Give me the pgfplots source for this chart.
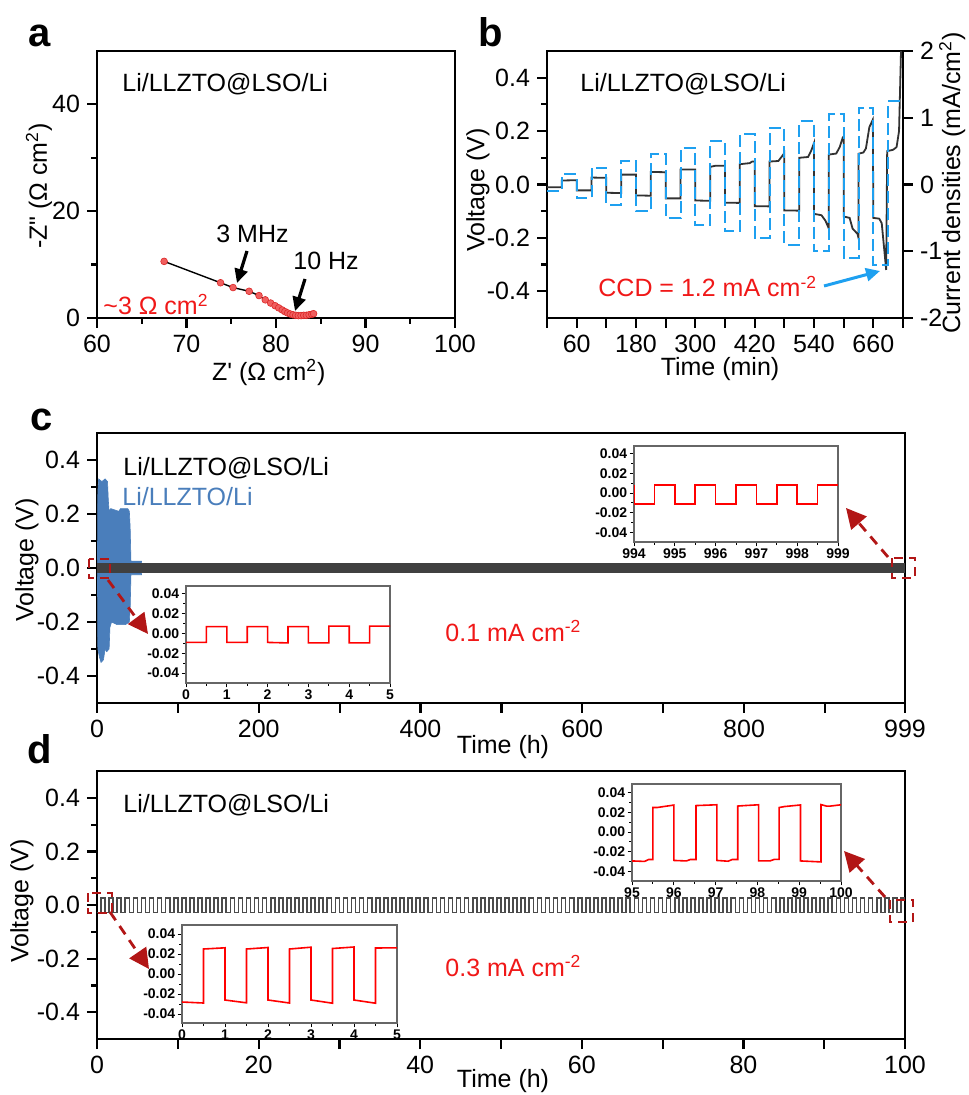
\documentclass[border=0pt]{standalone}
\usepackage{fontspec}
\setmainfont{Liberation Sans}
\usepackage{pgfplots}
\pgfplotsset{compat=1.18}
\usetikzlibrary{arrows.meta}

\definecolor{dgray}{RGB}{64,64,64}
\definecolor{sblue}{RGB}{74,126,187}
\definecolor{cblue}{RGB}{30,160,240}
\definecolor{tred}{RGB}{240,24,24}
\definecolor{dred}{RGB}{178,22,22}
\definecolor{mfill}{RGB}{240,95,95}
\definecolor{medge}{RGB}{220,40,40}

\newcommand\fs{\fontsize{12.5}{14}\selectfont}

\pgfplotsset{
  main/.style={scale only axis, anchor=north west,
    axis line style={line width=1.3pt},
    tick style={line width=1.1pt, black},
    tick align=outside, major tick length=5pt, minor tick length=3pt,
    tick pos=left,
    ticklabel style={font=\fs},
    label style={font=\fs},
    /pgf/number format/assume math mode=true},
  inset/.style={scale only axis, anchor=north west,
    axis line style={line width=0.6pt, black!60},
    tick style={line width=0.5pt, black},
    tick align=outside, major tick length=2.2pt, minor tick length=1.3pt,
    tick pos=left, minor x tick num=1, minor y tick num=1,
    ticklabel style={font=\fontsize{7}{7}\selectfont\bfseries, inner sep=1pt},
    /pgf/number format/assume math mode=true,
    scaled ticks=false,
    ytick={-0.04,-0.02,0,0.02,0.04},
    yticklabels={-0.04,-0.02,0.00,0.02,0.04},
    axis background/.style={fill=white}},
}

\begin{document}
\begin{tikzpicture}
\path[use as bounding box] (0,0) rectangle (484pt,-547.5pt);

% ---------- a: Nyquist ----------
\begin{axis}[main, at={(48.5pt,-25.5pt)}, width=179pt, height=133.5pt,
  xmin=60, xmax=100, ymin=0, ymax=50,
  xtick={60,70,80,90,100}, minor xtick={65,75,85,95},
  ytick={0,20,40}, minor ytick={10,30},
  xlabel={Z\textquotesingle\ (Ω cm\textsuperscript{2})},
  ylabel={-Z\textquotedbl\ (Ω cm\textsuperscript{2})},
  xlabel style={at={(axis description cs:0.48,-0.205)}, anchor=center},
  ylabel style={at={(axis description cs:-0.162,0.494)}, anchor=center},
  clip=false]
\addplot[black, line width=0.7pt, mark=*, mark size=1.7pt,
  mark options={fill=mfill, draw=medge, line width=0.3pt}] coordinates {
  (67.5,10.6)(73.8,6.6)(75.2,5.7)(77.0,5.0)(78.1,4.2)(78.8,3.4)(79.4,2.8)
  (79.9,2.3)(80.3,1.9)(80.7,1.5)(81.0,1.2)(81.3,0.95)(81.6,0.75)(81.9,0.6)
  (82.2,0.5)(82.5,0.45)(82.8,0.45)(83.1,0.5)(83.4,0.5)(83.7,0.6)(84.0,0.7)(84.2,0.8)};
\end{axis}

% ---------- b: CCD ----------
\begin{axis}[main, at={(273.5pt,-25.5pt)}, width=178pt, height=133.5pt,
  xmin=0, xmax=720, ymin=-0.5, ymax=0.5,
  xtick={0,60,120,180,240,300,360,420,480,540,600,660,720},
  xticklabels={,60,,180,,300,,420,,540,,660,},
  ytick={-0.4,-0.2,0,0.2,0.4}, yticklabels={-0.4,-0.2,0.0,0.2,0.4},
  minor ytick={-0.3,-0.1,0.1,0.3},
  xlabel={Time (min)}, ylabel={Voltage (V)},
  xlabel style={at={(axis description cs:0.486,-0.19)}, anchor=center},
  ylabel style={at={(axis description cs:-0.194,0.479)}, anchor=center}]
\addplot[color={rgb,255:red,50;green,50;blue,50}, line width=0.9pt] coordinates {
  (0,-0.010)(30,-0.010)(30,0.015)(60,0.016)(60,-0.022)(90,-0.022)
  (90,0.026)(120,0.025)(120,-0.031)(150,-0.032)(150,0.037)(180,0.037)
  (180,-0.041)(210,-0.042)(210,0.047)(240,0.046)(240,-0.052)(270,-0.052)
  (270,0.056)(300,0.056)(300,-0.060)(330,-0.061)(330,0.066)(340,0.070)(360,0.070)
  (360,-0.068)(390,-0.069)(390,0.076)(410,0.080)(415,0.086)(420,0.086)
  (420,-0.081)(450,-0.082)(450,0.086)(468,0.088)(475,0.105)(480,0.118)
  (480,-0.097)(510,-0.098)(510,0.100)(528,0.103)(534,0.125)(540,0.155)
  (540,-0.110)(555,-0.115)(563,-0.135)(570,-0.165)
  (570,0.112)(585,0.116)(592,0.140)(598,0.175)(600,0.180)
  (600,-0.120)(612,-0.125)(618,-0.165)(628,-0.185)(630,-0.200)
  (630,0.115)(640,0.120)(645,0.135)(652,0.215)(659,0.243)
  (660,-0.125)(672,-0.128)(677,-0.145)(686,-0.320)
  (688,0.125)(700,0.130)(707,0.140)(712,0.200)(716,0.500)};
\end{axis}
\begin{axis}[main, at={(273.5pt,-25.5pt)}, width=178pt, height=133.5pt,
  xmin=0, xmax=720, ymin=-2, ymax=2,
  axis x line=none, axis y line*=right, ytick pos=right,
  ytick={-2,-1,0,1,2}, yticklabels={-2,-1,0,1,2},
  ylabel={Current densities (mA/cm\textsuperscript{2})},
  ylabel style={at={(axis description cs:1.138,0.506)}, anchor=center}]
\addplot[cblue, line width=1pt, dash pattern=on 6pt off 2.5pt] coordinates {
  (0,-0.10)(30,-0.10)(30,0.15)(60,0.15)(60,-0.20)(90,-0.20)(90,0.25)(120,0.25)
  (120,-0.30)(150,-0.30)(150,0.35)(180,0.35)(180,-0.40)(210,-0.40)(210,0.45)(240,0.45)
  (240,-0.50)(270,-0.50)(270,0.55)(300,0.55)(300,-0.60)(330,-0.60)(330,0.65)(360,0.65)
  (360,-0.70)(390,-0.70)(390,0.75)(420,0.75)(420,-0.80)(450,-0.80)(450,0.85)(480,0.85)
  (480,-0.90)(510,-0.90)(510,0.95)(540,0.95)(540,-1.00)(570,-1.00)(570,1.05)(600,1.05)
  (600,-1.10)(630,-1.10)(630,1.15)(660,1.15)(660,-1.20)(690,-1.20)(690,1.25)(720,1.25)};
\end{axis}

% ---------- c: long cycling 0.1 mA ----------
\begin{axis}[main, at={(48.5pt,-216.5pt)}, width=404pt, height=135pt,
  xmin=0, xmax=999, ymin=-0.5, ymax=0.5,
  xtick={0,100,200,300,400,500,600,700,800,900,999},
  xticklabels={0,,200,,400,,600,,800,,999},
  ytick={-0.4,-0.2,0,0.2,0.4}, yticklabels={-0.4,-0.2,0.0,0.2,0.4},
  minor ytick={-0.3,-0.1,0.1,0.3},
  xlabel={Time (h)}, ylabel={Voltage (V)},
  xlabel style={at={(axis description cs:0.5025,-0.163)}, anchor=center},
  ylabel style={at={(axis description cs:-0.0866,0.53)}, anchor=center}]
\addplot[fill=sblue, draw=sblue, line width=0.3pt] coordinates {
  (0.5,0)(1,0.28)(2,0.33)(6,0.32)(10,0.33)(13,0.32)(14,0.25)(15,0.21)(17,0.22)
  (27,0.21)(29,0.22)(38,0.22)(40,0.21)(41,0.15)(42,0.025)(55,0.025)(56,0)
  (55,-0.025)(42,-0.025)(41,-0.15)(40,-0.20)(35,-0.21)(25,-0.21)(18,-0.20)
  (16,-0.22)(15,-0.30)(12,-0.31)(10,-0.30)(8,-0.34)(5,-0.35)(3,-0.33)(1,-0.30)(0.5,0)};
\addplot[fill=dgray, draw=none] coordinates {(0,-0.02)(999,-0.02)(999,0.02)(0,0.02)};
\end{axis}

% ---------- d: cycling 0.3 mA ----------
\begin{axis}[main, at={(48.5pt,-385.5pt)}, width=404pt, height=134pt,
  xmin=0, xmax=100, ymin=-0.5, ymax=0.5,
  xtick={0,10,20,30,40,50,60,70,80,90,100},
  xticklabels={0,,20,,40,,60,,80,,100},
  ytick={-0.4,-0.2,0,0.2,0.4}, yticklabels={-0.4,-0.2,0.0,0.2,0.4},
  minor ytick={-0.3,-0.1,0.1,0.3},
  xlabel={Time (h)}, ylabel={Voltage (V)},
  xlabel style={at={(axis description cs:0.5025,-0.157)}, anchor=center},
  ylabel style={at={(axis description cs:-0.0928,0.515)}, anchor=center}]
\addplot[const plot, color={rgb,255:red,75;green,75;blue,75}, line width=0.8pt] coordinates {
  (0,-.028)(.5,.026)(1,-.028)(1.5,.026)(2,-.028)(2.5,.026)(3,-.028)(3.5,.026)(4,-.028)(4.5,.026)
  (5,-.028)(5.5,.026)(6,-.028)(6.5,.026)(7,-.028)(7.5,.026)(8,-.028)(8.5,.026)(9,-.028)(9.5,.026)
  (10,-.028)(10.5,.026)(11,-.028)(11.5,.026)(12,-.028)(12.5,.026)(13,-.028)(13.5,.026)(14,-.028)(14.5,.026)
  (15,-.028)(15.5,.026)(16,-.028)(16.5,.026)(17,-.028)(17.5,.026)(18,-.028)(18.5,.026)(19,-.028)(19.5,.026)
  (20,-.028)(20.5,.026)(21,-.028)(21.5,.026)(22,-.028)(22.5,.026)(23,-.028)(23.5,.026)(24,-.028)(24.5,.026)
  (25,-.028)(25.5,.026)(26,-.028)(26.5,.026)(27,-.028)(27.5,.026)(28,-.028)(28.5,.026)(29,-.028)(29.5,.026)
  (30,-.028)(30.5,.026)(31,-.028)(31.5,.026)(32,-.028)(32.5,.026)(33,-.028)(33.5,.026)(34,-.028)(34.5,.026)
  (35,-.028)(35.5,.026)(36,-.028)(36.5,.026)(37,-.028)(37.5,.026)(38,-.028)(38.5,.026)(39,-.028)(39.5,.026)
  (40,-.028)(40.5,.026)(41,-.028)(41.5,.026)(42,-.028)(42.5,.026)(43,-.028)(43.5,.026)(44,-.028)(44.5,.026)
  (45,-.028)(45.5,.026)(46,-.028)(46.5,.026)(47,-.028)(47.5,.026)(48,-.028)(48.5,.026)(49,-.028)(49.5,.026)
  (50,-.028)(50.5,.026)(51,-.028)(51.5,.026)(52,-.028)(52.5,.026)(53,-.028)(53.5,.026)(54,-.028)(54.5,.026)
  (55,-.028)(55.5,.026)(56,-.028)(56.5,.026)(57,-.028)(57.5,.026)(58,-.028)(58.5,.026)(59,-.028)(59.5,.026)
  (60,-.028)(60.5,.026)(61,-.028)(61.5,.026)(62,-.028)(62.5,.026)(63,-.028)(63.5,.026)(64,-.028)(64.5,.026)
  (65,-.028)(65.5,.026)(66,-.028)(66.5,.026)(67,-.028)(67.5,.026)(68,-.028)(68.5,.026)(69,-.028)(69.5,.026)
  (70,-.028)(70.5,.026)(71,-.028)(71.5,.026)(72,-.028)(72.5,.026)(73,-.028)(73.5,.026)(74,-.028)(74.5,.026)
  (75,-.028)(75.5,.026)(76,-.028)(76.5,.026)(77,-.028)(77.5,.026)(78,-.028)(78.5,.026)(79,-.028)(79.5,.026)
  (80,-.028)(80.5,.026)(81,-.028)(81.5,.026)(82,-.028)(82.5,.026)(83,-.028)(83.5,.026)(84,-.028)(84.5,.026)
  (85,-.028)(85.5,.026)(86,-.028)(86.5,.026)(87,-.028)(87.5,.026)(88,-.028)(88.5,.026)(89,-.028)(89.5,.026)
  (90,-.028)(90.5,.026)(91,-.028)(91.5,.026)(92,-.028)(92.5,.026)(93,-.028)(93.5,.026)(94,-.028)(94.5,.026)
  (95,-.028)(95.5,.026)(96,-.028)(96.5,.026)(97,-.028)(97.5,.026)(98,-.028)(98.5,.026)(99,-.028)(99.5,.026)
  (100,.026)};
\end{axis}

% ---------- insets ----------
\begin{axis}[inset, at={(93pt,-293pt)}, width=102pt, height=48.5pt,
  xmin=0, xmax=5, ymin=-0.05, ymax=0.048, xtick={0,1,2,3,4,5}]
\addplot[red, line width=0.8pt] coordinates {
  (0,-0.009)(0.5,-0.009)(0.5,0.007)(1,0.007)(1,-0.009)(1.5,-0.009)(1.5,0.007)(2,0.007)
  (2,-0.009)(2.5,-0.0095)(2.5,0.007)(3,0.007)(3,-0.0095)(3.5,-0.0095)(3.5,0.0075)(4,0.0075)
  (4,-0.0095)(4.5,-0.0095)(4.5,0.0075)(5,0.0075)};
\end{axis}

\begin{axis}[inset, at={(317pt,-223pt)}, width=102pt, height=48pt,
  xmin=994, xmax=999, ymin=-0.05, ymax=0.048, xtick={994,995,996,997,998,999}]
\addplot[red, line width=0.8pt] coordinates {
  (994,0.008)(994,-0.011)(994.5,-0.011)(994.5,0.008)(995,0.008)(995,-0.011)(995.5,-0.011)
  (995.5,0.008)(996,0.008)(996,-0.011)(996.5,-0.011)(996.5,0.008)(997,0.008)(997,-0.011)
  (997.5,-0.011)(997.5,0.008)(998,0.008)(998,-0.011)(998.5,-0.011)(998.5,0.008)(999,0.008)};
\end{axis}

\begin{axis}[inset, at={(91pt,-462.5pt)}, width=107.5pt, height=49pt,
  xmin=0, xmax=5, ymin=-0.049, ymax=0.049, xtick={0,1,2,3,4,5}]
\addplot[red, line width=0.8pt] coordinates {
  (0,-0.028)(0.5,-0.029)(0.5,0.025)(1,0.0262)(1,-0.026)(1.5,-0.0288)(1.5,0.025)(2,0.0265)
  (2,-0.026)(2.5,-0.029)(2.5,0.025)(3,0.0268)(3,-0.026)(3.5,-0.0292)(3.5,0.0255)(4,0.027)
  (4,-0.026)(4.5,-0.0292)(4.5,0.026)(5,0.0262)};
\end{axis}

\begin{axis}[inset, at={(316pt,-392pt)}, width=104.5pt, height=48.5pt,
  xmin=95, xmax=100, ymin=-0.05, ymax=0.049, xtick={95,96,97,98,99,100}]
\addplot[red, line width=0.8pt] coordinates {
  (95,-0.0295)(95.3,-0.030)(95.4,-0.028)(95.5,-0.028)(95.5,0.025)(95.6,0.025)(96,0.0275)
  (96,-0.029)(96.3,-0.0295)(96.4,-0.028)(96.53,-0.028)(96.53,0.027)(97.03,0.0278)
  (97.03,-0.029)(97.3,-0.0298)(97.4,-0.028)(97.53,-0.028)(97.53,0.0265)(97.7,0.027)(98.03,0.0278)
  (98.03,-0.0295)(98.3,-0.0295)(98.4,-0.028)(98.52,-0.0278)(98.52,0.025)(98.65,0.026)(99.03,0.0276)
  (99.03,-0.0295)(99.52,-0.0305)(99.52,0.028)(99.65,0.0265)(99.75,0.0265)(100,0.0278)};
\end{axis}

% ---------- annotations (pixel grid of the reference) ----------
\begin{scope}[x=0.5pt, y=-0.5pt, every node/.style={inner sep=0pt, font=\fs}]
  \foreach \l/\px/\py in {a/28/47, b/478/47, c/30/430, d/27/763}
    \node[anchor=base west, font=\fontsize{20}{20}\selectfont\bfseries] at (\px,\py) {\l};

  \node[anchor=base west] at (122,92) {Li/LLZTO@LSO/Li};
  \node[anchor=base west] at (580,92) {Li/LLZTO@LSO/Li};
  \node[anchor=base west] at (123,475) {Li/LLZTO@LSO/Li};
  \node[anchor=base west, text=sblue] at (122,505) {Li/LLZTO/Li};
  \node[anchor=base west] at (123,812) {Li/LLZTO@LSO/Li};

  % panel a
  \node[anchor=base west] at (216,243) {3 MHz};
  \node[anchor=base west] at (293,270) {10 Hz};
  \node[anchor=base west, text=tred] at (103,315) {\textasciitilde3 Ω cm\textsuperscript{2}};
  \draw[line width=1.6pt, -{Triangle[length=7pt,width=6.5pt]}] (247,251) -- (237,283);
  \draw[line width=1.6pt, -{Triangle[length=7pt,width=6.5pt]}] (305,279) -- (295,311);

  % panel b
  \node[anchor=base west, text=tred] at (598,297) {CCD = 1.2 mA cm\textsuperscript{-2}};
  \draw[cblue, line width=1.5pt, -{Triangle[length=7pt,width=6.5pt]}] (824,286) -- (880,271);

  % panel c
  \node[anchor=base west, text=tred] at (445,641) {0.1 mA cm\textsuperscript{-2}};
  \draw[dred, line width=1.2pt, dash pattern=on 4.5pt off 3pt] (89,559) rectangle (110,578);
  \draw[dred, line width=1.2pt, dash pattern=on 4.5pt off 3pt] (892,558) rectangle (915,578);
  \draw[dred, line width=1.4pt, dash pattern=on 5pt off 3.5pt, -{Triangle[length=10pt,width=10pt]}] (108,580) -- (148,634);
  \draw[dred, line width=1.4pt, dash pattern=on 5pt off 3.5pt, -{Triangle[length=10pt,width=10pt]}] (888,557) -- (846,508);

  % panel d
  \node[anchor=base west, text=tred] at (445,976) {0.3 mA cm\textsuperscript{-2}};
  \draw[dred, line width=1.2pt, dash pattern=on 4.5pt off 3pt] (88,893) rectangle (112,913);
  \draw[dred, line width=1.2pt, dash pattern=on 4.5pt off 3pt] (890,900) rectangle (913,922);
  \draw[dred, line width=1.4pt, dash pattern=on 5pt off 3.5pt, -{Triangle[length=10pt,width=10pt]}] (110,912) -- (149,969);
  \draw[dred, line width=1.4pt, dash pattern=on 5pt off 3.5pt, -{Triangle[length=10pt,width=10pt]}] (885,897) -- (844,851);
\end{scope}
\end{tikzpicture}
\end{document}
